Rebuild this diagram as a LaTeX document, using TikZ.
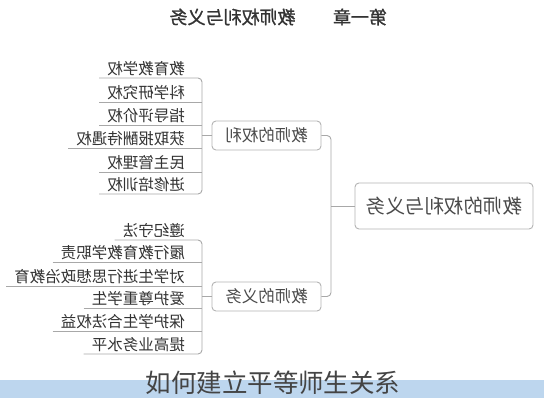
\documentclass[tikz,border=0pt]{standalone}
\usepackage{fontspec}
\setmainfont{Noto Sans CJK SC}
\newfontfamily\mytitlefont[FakeBold=1.2]{Noto Sans CJK SC}
\definecolor{linegray}{HTML}{A8A8A8}
\definecolor{boxgray}{HTML}{B4B4B4}
\definecolor{txtgray}{HTML}{4A4A4A}
\definecolor{leafgray}{HTML}{333333}
\definecolor{capgray}{HTML}{444444}
\definecolor{barblue}{HTML}{BDD6EE}
\begin{document}
\begin{tikzpicture}[x=1pt,y=-1pt,
  conn/.style={draw=linegray, line width=0.9pt},
  box/.style={draw=boxgray, rounded corners=4pt, line width=0.9pt, fill=white, text=txtgray, inner sep=0pt},
  leaf/.style={anchor=east, inner sep=0pt, text=leafgray, font=\fontsize{15.5}{16}\selectfont},
  branchbox/.style={box, minimum width=109pt, minimum height=29pt, font=\fontsize{16.5}{17}\selectfont},
  titletext/.style={inner sep=0pt, text=leafgray, font=\mytitlefont\fontsize{18}{18}\selectfont}
]
\useasboundingbox (0,0) rectangle (544,400);
\fill[white] (0,0) rectangle (544,400);
% title (mirrored)
\node[titletext] (t2) at (232.5,17) {\reflectbox{教师权利与义务}};
\node[titletext] (t1) at (360,17) {\reflectbox{第一章}};
% boxes
\node[box, minimum width=178pt, minimum height=46pt, font=\fontsize{19.5}{20}\selectfont] (root) at (444,206) {\reflectbox{教师的权利与义务}};
\node[branchbox] (rights) at (266.5,135.5) {\reflectbox{教师的权利}};
\node[branchbox] (duties) at (266.5,296.5) {\reflectbox{教师的义务}};
% hub and bracket coordinates
\coordinate (hub) at (331,0);
\coordinate (rb) at (202,0);
% rights leaves
\node[leaf] (r1) at (185,69) {\reflectbox{教育教学权}};
\node[leaf] (r2) at (185,93) {\reflectbox{科学研究权}};
\node[leaf] (r3) at (185,116) {\reflectbox{指导评价权}};
\node[leaf] (r4) at (185,139) {\reflectbox{获取报酬待遇权}};
\node[leaf] (r5) at (185,163) {\reflectbox{民主管理权}};
\node[leaf] (r6) at (185,185) {\reflectbox{进修培训权}};
% duties leaves
\node[leaf] (d1) at (185,231) {\reflectbox{遵纪守法}};
\node[leaf] (d2) at (185,253) {\reflectbox{履行教育教学职责}};
\node[leaf] (d3) at (185,277) {\reflectbox{对学生进行思想政治教育}};
\node[leaf] (d4) at (185,299) {\reflectbox{爱护尊重学生}};
\node[leaf] (d5) at (185,322) {\reflectbox{保护学生合法权益}};
\node[leaf] (d6) at (185,345) {\reflectbox{提高业务水平}};
% underline start points
\foreach \n in {r1,r2,r3,r4,r5,r6,d1,d2,d3,d4,d5,d6}{
  \path (\n.west) ++(-8,9) coordinate (u\n);
}
% rights bracket
\draw[conn, rounded corners=4pt] (ur1) -- (ur1 -| rb) -- (ur6 -| rb) -- (ur6);
\foreach \n in {r2,r3,r4,r5}{ \draw[conn] (u\n) -- (u\n -| rb); }
\draw[conn] (rights.west) -- (rights.west -| rb);
% duties bracket
\draw[conn, rounded corners=4pt] (ud1) -- (ud1 -| rb) -- (ud6 -| rb) -- (ud6);
\foreach \n in {d2,d3,d4,d5}{ \draw[conn] (u\n) -- (u\n -| rb); }
\draw[conn] (duties.west) -- (duties.west -| rb);
% hub
\draw[conn, rounded corners=4pt] (rights.east) -- (rights.east -| hub) -- (duties.east -| hub) -- (duties.east);
\draw[conn] (root.west) -- (root.west -| hub);
% bottom bar and caption
\fill[barblue] (0,380) rectangle (544,398);
\node[inner sep=0pt, text=capgray, font=\fontsize{25.5}{26}\selectfont] (cap) at (273,383) {如何建立平等师生关系};
\end{tikzpicture}
\end{document}
